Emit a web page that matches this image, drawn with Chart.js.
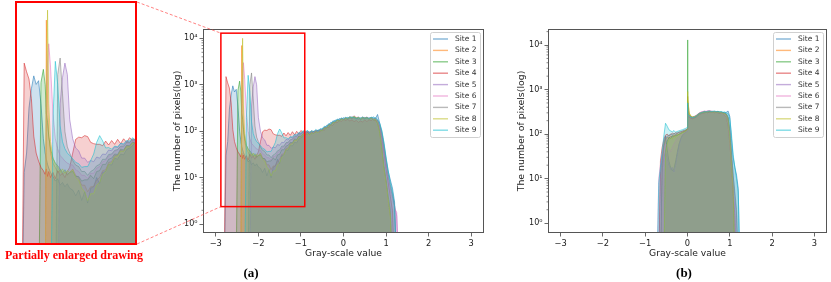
<!DOCTYPE html>
<html>
<head>
<meta charset="utf-8">
<script src="https://cdn.jsdelivr.net/npm/chart.js@4.4.0/dist/chart.umd.min.js"></script>
<style>
  html, body { margin: 0; padding: 0; background: #fff; }
  #page { position: relative; width: 831px; height: 282px; overflow: hidden; }
  #page canvas { position: absolute; }
  #zoomChart { left: 17px; top: 3px; }
  #chartA { left: 172px; top: 0; }
  #chartB { left: 516px; top: 0; }
  #links { left: 0; top: 0; pointer-events: none; }
  #zoomBox { position: absolute; left: 15px; top: 1px; width: 122px; height: 244px; box-sizing: border-box; border: 2px solid #f00; }
  .cap { position: absolute; font-family: "Liberation Serif", "Times New Roman", serif; font-weight: bold; white-space: nowrap; transform: translate(-50%, -50%); }
</style>
</head>
<body>
<div id="page">
  <canvas id="zoomChart" width="118" height="240"></canvas>
  <div id="zoomBox"></div>
  <canvas id="chartA" width="316" height="259"></canvas>
  <canvas id="chartB" width="315" height="259"></canvas>
  <canvas id="links" width="831" height="282"></canvas>
  <div class="cap" style="left:74px;top:255px;color:#f00;font-size:12px">Partially enlarged drawing</div>
  <div class="cap" style="left:251px;top:273px;font-size:13px">(a)</div>
  <div class="cap" style="left:684px;top:273px;font-size:13px">(b)</div>
</div>
<script>
// sites
const siteNames = ['Site 1', 'Site 2', 'Site 3', 'Site 4', 'Site 5', 'Site 6', 'Site 7', 'Site 8', 'Site 9'];
const siteColors = ['31,119,180', '255,127,14', '44,160,44', '214,39,40', '148,103,189', '227,119,194', '127,127,127', '188,189,34', '23,190,207'];

// axes
const xTickValues = [-3, -2, -1, 0, 1, 2, 3];
const xTickLabels = ['\u22123', '\u22122', '\u22121', '0', '1', '2', '3'];
const yTickValues = [1, 10, 100, 1000, 10000];
const yTickLabels = ['10\u2070', '10\u00b9', '10\u00b2', '10\u00b3', '10\u2074'];
const xRange = [-3.3, 3.3];
const yRangeA = [0.65, 15850];
const yRangeB = [0.63, 22900];
// window shown in the enlarged panel
const zoomX = [-2.88, -0.91];
const zoomY = [2.4, 12900];

// (a) gray-scale bins
const grayA = [
  -2.84, -2.80, -2.76, -2.72, -2.68, -2.64, -2.60, -2.56, -2.52, -2.48, -2.44, -2.41,
  -2.39, -2.37, -2.35, -2.32, -2.28, -2.24, -2.20, -2.16, -2.12, -2.08, -2.04, -2.00,
  -1.95, -1.90, -1.85, -1.80, -1.75, -1.70, -1.65, -1.60, -1.55, -1.50, -1.45, -1.40, -1.35, -1.30, -1.25, -1.20, -1.15, -1.10, -1.05, -1.00,
  -0.95, -0.90, -0.85, -0.80, -0.75, -0.70, -0.65, -0.60, -0.55, -0.50, -0.45, -0.40, -0.35, -0.30, -0.25, -0.20, -0.15, -0.10, -0.05, 0.00,
  0.05, 0.10, 0.15, 0.20, 0.25, 0.30, 0.35, 0.40, 0.45, 0.50, 0.55, 0.60, 0.65, 0.70, 0.75, 0.80, 0.85, 0.90, 0.95, 1.00, 1.05, 1.10, 1.15, 1.20, 1.25, 1.30
];

// (a) pixel counts per site
const site1A = [
  null, 0.1, 30, 60, 300, 600, 950, 700, 800, 350, 100, 60,
  48, 40, 35, 30, 26, 22, 24, 19, 21, 18, 20, 17,
  16, 13, 16, 11, 15, 10, 17, 18, 25, 20, 30, 31, 40, 39, 50, 48, 58, 56, 68, 72,
  78, 90, 84, 96, 86, 99, 93, 108, 101, 116, 117, 134, 135, 156, 150, 175, 168, 188, 180, 196,
  186, 200, 190, 206, 192, 198, 184, 196, 190, 198, 184, 196, 190, 204, 186, 230, 150, 100, 55, 26, 14, 9, 6, 3, 0.1, null
];
const site2A = [
  null, null, null, null, null, null, null, null, null, null, null, 0.1,
  7000, 400, 120, 60, 42, 36, 30, 33, 28, 31, 27, 30,
  34, 27, 25, 19, 19, 15, 18, 18, 23, 25, 32, 33, 43, 44, 55, 55, 66, 64, 78, 76,
  88, 86, 96, 84, 95, 91, 101, 96, 107, 104, 120, 118, 136, 138, 156, 154, 174, 170, 184, 178,
  192, 184, 200, 192, 206, 190, 198, 184, 200, 190, 198, 184, 194, 176, 176, 146, 90, 40, 15, 8, 3, 1.5, 0.1, null, null, null
];
const site3A = [
  null, null, null, null, null, null, null, null, 0.1, 750, 1200, 700,
  250, 180, 110, 70, 50, 42, 38, 34, 30, 33, 28, 30,
  31, 26, 26, 22, 23, 23, 27, 24, 31, 32, 40, 40, 48, 50, 58, 57, 69, 67, 79, 79,
  90, 84, 98, 86, 100, 90, 104, 94, 109, 102, 119, 115, 138, 134, 158, 154, 176, 168, 186, 178,
  190, 182, 198, 190, 204, 188, 196, 180, 196, 188, 198, 182, 192, 174, 178, 150, 100, 45, 18, 9, 4, 2, 0.1, null, null, null
];
const site4A = [
  null, 0.1, 1500, 1100, 850, 420, 110, 60, 45, 36, 32, 28,
  34, 26, 31, 25, 30, 24, 32, 27, 29, 25, 31, 36,
  60, 98, 106, 104, 112, 108, 88, 84, 82, 82, 78, 92, 80, 94, 82, 98, 84, 100, 88, 104,
  94, 101, 95, 97, 92, 100, 97, 103, 95, 109, 105, 124, 119, 138, 134, 156, 152, 171, 164, 181,
  172, 181, 166, 176, 162, 171, 156, 166, 159, 176, 162, 178, 169, 184, 169, 170, 120, 70, 35, 16, 8, 4, 2, 0.1, null, null
];
const site5A = [
  null, null, null, null, null, null, null, null, null, null, null, null,
  null, null, null, null, null, null, 0.1, 350, 900, 1500, 1000, 200,
  100, 72, 65, 50, 50, 43, 46, 44, 52, 50, 58, 57, 67, 65, 75, 73, 84, 82, 92, 89,
  96, 92, 98, 94, 96, 96, 102, 100, 106, 104, 117, 117, 134, 132, 154, 152, 171, 165, 182, 174,
  190, 182, 192, 184, 194, 179, 186, 172, 188, 179, 194, 178, 192, 176, 184, 164, 130, 80, 40, 20, 10, 6, 4, 2.5, 1.5, 0.1
];
const site6A = [
  null, null, null, null, null, null, null, null, null, null, null, 0.1,
  400, 1500, 3000, 1300, 250, 100, 70, 55, 50, 45, 42, 40,
  39, 33, 31, 27, 27, 24, 29, 29, 35, 37, 44, 46, 54, 56, 64, 66, 75, 75, 85, 85,
  98, 86, 102, 92, 104, 93, 107, 97, 112, 108, 125, 121, 143, 141, 164, 160, 180, 174, 190, 182,
  196, 188, 206, 198, 216, 198, 204, 188, 202, 194, 204, 189, 198, 182, 188, 166, 125, 75, 38, 18, 10, 5, 3.5, 2.2, 1.8, 0.1
];
const site7A = [
  null, null, null, null, null, null, null, null, null, null, null, null,
  null, null, null, null, null, 0.1, 1000, 1800, 500, 130, 75, 60,
  46, 39, 37, 31, 31, 27, 31, 33, 38, 40, 48, 48, 57, 58, 66, 68, 77, 77, 88, 87,
  100, 94, 99, 96, 101, 98, 104, 102, 108, 106, 123, 119, 139, 139, 160, 158, 176, 170, 188, 180,
  194, 186, 202, 192, 202, 188, 198, 184, 198, 190, 200, 184, 198, 184, 192, 172, 140, 90, 48, 24, 12, 7, 4.5, 2.5, 0.1, null
];
const site8A = [
  null, null, null, null, null, null, null, null, null, null, null, 0.1,
  300, 10000, 350, 90, 50, 40, 36, 30, 34, 29, 32, 30,
  33, 25, 23, 17, 15, 11, 14, 14, 19, 21, 28, 31, 40, 42, 52, 54, 64, 64, 75, 75,
  86, 82, 92, 81, 94, 88, 99, 93, 104, 102, 117, 115, 133, 133, 154, 152, 172, 166, 182, 174,
  194, 186, 204, 196, 211, 194, 200, 184, 198, 189, 199, 184, 194, 178, 181, 150, 95, 42, 16, 8, 3.5, 1.5, 0.1, null, null, null
];
const site9A = [
  null, null, null, null, null, null, null, null, null, null, null, null,
  null, null, null, 0.1, 200, 1600, 700, 160, 90, 70, 60, 55,
  49, 43, 41, 36, 37, 37, 46, 58, 88, 112, 93, 72, 73, 69, 77, 75, 85, 83, 94, 92,
  104, 94, 106, 93, 103, 99, 110, 100, 114, 112, 129, 125, 146, 144, 168, 164, 184, 178, 194, 186,
  200, 190, 206, 196, 204, 189, 198, 188, 204, 190, 198, 188, 202, 192, 198, 180, 150, 105, 58, 28, 14, 8, 5, 2.5, 0.1, null
];

// (b) gray-scale bins
const grayB = [
  -0.76, -0.72, -0.68, -0.64, -0.60, -0.56, -0.52, -0.48, -0.44, -0.40, -0.36, -0.32, -0.28, -0.24, -0.20, -0.16, -0.12, -0.08, -0.04,
  -0.01, 0, 0.01,
  0.04, 0.08, 0.12, 0.16, 0.20, 0.24, 0.28, 0.32, 0.36, 0.40, 0.44, 0.48, 0.52, 0.56, 0.60,
  0.64, 0.68, 0.72, 0.76, 0.80, 0.84, 0.88, 0.92, 0.96, 1.00, 1.04, 1.08, 1.12, 1.16, 1.20, 1.24
];

// (b) pixel counts per site
const site1B = [
  null, null, 0.1, 12, 30, 60, 90, 45, 25, 18, 15, 17, 25, 40, 60, 80, 95, 105, 110,
  120, 450, 260,
  250, 230, 225, 235, 245, 265, 285, 300, 305, 315, 320, 310, 318, 322, 315,
  320, 315, 318, 310, 312, 305, 300, 310, 330, 250, 80, 30, 18, 12, 6, 0.1
];
const site2B = [
  null, null, null, 0.1, 20, 50, 75, 85, 80, 90, 85, 95, 92, 100, 98, 105, 110, 115, 120,
  130, 700, 600,
  290, 250, 240, 245, 255, 275, 290, 305, 310, 318, 312, 322, 325, 318, 320,
  320, 312, 318, 308, 305, 300, 290, 270, 200, 80, 20, 5, 0.1, null, null, null
];
const site3B = [
  null, null, null, null, null, 0.1, 40, 70, 85, 80, 92, 88, 96, 94, 100, 104, 108, 112, 118,
  125, 13000, 450,
  270, 245, 238, 242, 252, 270, 288, 298, 306, 312, 318, 315, 320, 324, 318,
  322, 316, 320, 312, 310, 302, 295, 280, 230, 110, 28, 6, 0.1, null, null, null
];
const site4B = [
  null, null, 0.1, 25, 50, 75, 95, 100, 90, 98, 105, 100, 108, 104, 110, 112, 115, 118, 122,
  128, 400, 250,
  240, 225, 220, 228, 238, 255, 272, 285, 290, 298, 305, 300, 308, 310, 305,
  300, 305, 298, 290, 295, 285, 270, 240, 150, 60, 18, 5, 1.5, 0.1, null, null
];
const site5B = [
  null, null, null, 0.1, 15, 30, 40, 28, 20, 16, 18, 14, 20, 35, 55, 75, 90, 100, 108,
  115, 380, 260,
  255, 240, 242, 250, 262, 280, 300, 310, 318, 325, 320, 328, 330, 322, 318,
  322, 315, 318, 310, 305, 300, 295, 285, 240, 130, 40, 12, 4, 1.5, 0.1, null
];
const site6B = [
  null, 0.1, 10, 20, 35, 50, 60, 55, 45, 40, 50, 60, 70, 80, 88, 95, 100, 106, 112,
  118, 420, 270,
  250, 238, 235, 245, 258, 275, 295, 312, 320, 330, 325, 335, 338, 330, 325,
  320, 318, 312, 305, 300, 290, 275, 250, 170, 70, 20, 6, 2, 0.1, null, null
];
const site7B = [
  null, null, null, 0.1, 25, 55, 80, 90, 95, 100, 96, 104, 100, 108, 110, 114, 118, 122, 126,
  130, 500, 280,
  262, 240, 232, 240, 250, 268, 286, 298, 305, 312, 308, 316, 320, 314, 318,
  315, 310, 314, 306, 308, 298, 292, 280, 235, 120, 38, 12, 5, 2, 0.1, null
];
const site8B = [
  null, null, null, null, null, 0.1, 35, 60, 75, 82, 78, 90, 86, 95, 98, 102, 108, 112, 118,
  125, 900, 650,
  300, 255, 242, 248, 256, 272, 290, 300, 308, 315, 310, 318, 322, 315, 312,
  318, 310, 315, 305, 302, 295, 288, 272, 210, 90, 24, 6, 0.1, null, null, null
];
const site9B = [
  null, 0.1, 8, 18, 40, 90, 175, 150, 125, 118, 112, 120, 110, 115, 118, 122, 125, 130, 135,
  140, 500, 280,
  260, 240, 235, 240, 250, 270, 290, 300, 310, 320, 315, 325, 330, 320, 325,
  330, 320, 325, 315, 320, 310, 315, 300, 290, 230, 100, 35, 18, 10, 5, 0.1
];

const sitesA = [site1A, site2A, site3A, site4A, site5A, site6A, site7A, site8A, site9A];
const sitesB = [site1B, site2B, site3B, site4B, site5B, site6B, site7B, site8B, site9B];

Chart.defaults.font.family = "'DejaVu Sans', sans-serif";
Chart.defaults.color = '#222';

function makeSets(xs, series) {
  return series.map((vals, i) => ({
    label: siteNames[i],
    data: xs.map((x, j) => ({ x: x, y: vals[j] })),
    borderColor: 'rgba(' + siteColors[i] + ',0.55)',
    backgroundColor: 'rgba(' + siteColors[i] + ',0.22)',
    borderWidth: 1,
    pointRadius: 0,
    tension: 0,
    fill: 'start',
    order: series.length - 1 - i // last site on top, like matplotlib
  }));
}

function xAxis() {
  return {
    type: 'linear', min: xRange[0], max: xRange[1],
    afterBuildTicks: s => { s.ticks = xTickValues.map(v => ({ value: v })); },
    afterFit: s => { s.height = 26; },
    ticks: { callback: v => xTickLabels[xTickValues.indexOf(v)] || '', font: { size: 8.3 }, padding: 2, maxRotation: 0, autoSkip: false },
    grid: { drawOnChartArea: false, tickLength: 3.5, tickColor: '#444', tickWidth: 0.8 },
    border: { display: false },
    title: { display: true, text: 'Gray-scale value', font: { size: 9.2 }, padding: 0 }
  };
}

function yAxis(range, width) {
  return {
    type: 'logarithmic', min: range[0], max: range[1],
    afterBuildTicks: s => { s.ticks = yTickValues.map(v => ({ value: v })); },
    afterFit: s => { s.width = width; },
    ticks: { callback: v => yTickLabels[yTickValues.indexOf(v)] || '', font: { size: 8 }, padding: 2, autoSkip: false },
    grid: { drawOnChartArea: false, tickLength: 3.5, tickColor: '#444', tickWidth: 0.8 },
    border: { display: false },
    title: { display: true, text: 'The number of pixels(log)', font: { size: 9.4 }, padding: 0 }
  };
}

// frame + minor log ticks
const minorTicks = [];
[1, 10, 100, 1000, 10000].forEach(d => { for (let k = 2; k <= 9; k++) minorTicks.push(d * k); });

const framePlugin = {
  id: 'frame',
  afterDraw(chart) {
    const { ctx, chartArea: a, scales } = chart;
    const l = Math.round(a.left) + 0.5, t = Math.round(a.top) + 0.5;
    const r = Math.round(a.right) - 0.5, b = Math.round(a.bottom) - 0.5;
    ctx.save();
    ctx.strokeStyle = '#555';
    ctx.lineWidth = 0.7;
    minorTicks.forEach(v => {
      const y = scales.y.getPixelForValue(v);
      if (y < a.top || y > a.bottom) return;
      ctx.beginPath();
      ctx.moveTo(l - 2, y);
      ctx.lineTo(l, y);
      ctx.stroke();
    });
    ctx.lineWidth = 1;
    ctx.strokeRect(l, t, r - l, b - t);
    ctx.restore();
  }
};

const legendPlugin = {
  id: 'siteLegend',
  afterDraw(chart) {
    const { ctx, chartArea: a } = chart;
    const w = 50, h = 105;
    const x0 = Math.round(a.right) - 4 - w, y0 = Math.round(a.top) + 3;
    ctx.save();
    ctx.fillStyle = 'rgba(255,255,255,0.85)';
    ctx.strokeStyle = '#d0d0d0';
    ctx.lineWidth = 1;
    ctx.beginPath();
    ctx.roundRect(x0 + 0.5, y0 + 0.5, w, h, 2);
    ctx.fill();
    ctx.stroke();
    ctx.font = "7.5px 'DejaVu Sans'";
    ctx.textBaseline = 'middle';
    chart.data.datasets.forEach((ds, i) => {
      const y = y0 + 7 + i * 11.4;
      ctx.strokeStyle = ds.borderColor;
      ctx.lineWidth = 1.4;
      ctx.beginPath();
      ctx.moveTo(x0 + 3, y);
      ctx.lineTo(x0 + 18, y);
      ctx.stroke();
      ctx.fillStyle = '#333';
      ctx.fillText(ds.label, x0 + 25, y);
    });
    ctx.restore();
  }
};

const zoomRectPlugin = {
  id: 'zoomRect',
  afterDatasetsDraw(chart) {
    const { ctx, scales } = chart;
    const x1 = scales.x.getPixelForValue(zoomX[0]), x2 = scales.x.getPixelForValue(zoomX[1]);
    const y1 = scales.y.getPixelForValue(zoomY[1]), y2 = scales.y.getPixelForValue(zoomY[0]);
    ctx.save();
    ctx.strokeStyle = '#f00';
    ctx.lineWidth = 1.5;
    ctx.strokeRect(x1, y1, x2 - x1, y2 - y1);
    ctx.restore();
  }
};

const baseOptions = {
  responsive: false,
  animation: false,
  events: [],
  plugins: { legend: { display: false }, tooltip: { enabled: false } }
};

const chartA = new Chart(document.getElementById('chartA'), {
  type: 'line',
  data: { datasets: makeSets(grayA, sitesA) },
  options: Object.assign({}, baseOptions, {
    layout: { padding: { top: 29, right: 4, left: 0, bottom: 0 } },
    scales: { x: xAxis(), y: yAxis(yRangeA, 31) }
  }),
  plugins: [framePlugin, zoomRectPlugin, legendPlugin]
});

const chartB = new Chart(document.getElementById('chartB'), {
  type: 'line',
  data: { datasets: makeSets(grayB, sitesB) },
  options: Object.assign({}, baseOptions, {
    layout: { padding: { top: 29, right: 4, left: 0, bottom: 0 } },
    scales: { x: xAxis(), y: yAxis(yRangeB, 32) }
  }),
  plugins: [framePlugin, legendPlugin]
});

// enlarged copy of the red window in (a)
const zoomChart = new Chart(document.getElementById('zoomChart'), {
  type: 'line',
  data: { datasets: makeSets(grayA, sitesA) },
  options: Object.assign({}, baseOptions, {
    layout: { padding: 0 },
    scales: {
      x: { type: 'linear', display: false, min: zoomX[0], max: zoomX[1] },
      y: { type: 'logarithmic', display: false, min: zoomY[0], max: zoomY[1] }
    }
  })
});

// dashed connectors between the enlarged box and the red window
(function drawLinks() {
  const canA = document.getElementById('chartA');
  const box = document.getElementById('zoomBox');
  const ctx = document.getElementById('links').getContext('2d');
  const xL = canA.offsetLeft + chartA.scales.x.getPixelForValue(zoomX[0]);
  const yT = canA.offsetTop + chartA.scales.y.getPixelForValue(zoomY[1]);
  const yB = canA.offsetTop + chartA.scales.y.getPixelForValue(zoomY[0]);
  const bx = box.offsetLeft + box.offsetWidth;
  ctx.strokeStyle = 'rgba(255,70,70,0.85)';
  ctx.lineWidth = 0.8;
  ctx.setLineDash([3, 2]);
  ctx.beginPath();
  ctx.moveTo(bx, box.offsetTop + 1);
  ctx.lineTo(xL, yT);
  ctx.moveTo(bx, box.offsetTop + box.offsetHeight - 1);
  ctx.lineTo(xL, yB);
  ctx.stroke();
})();
</script>
</body>
</html>
